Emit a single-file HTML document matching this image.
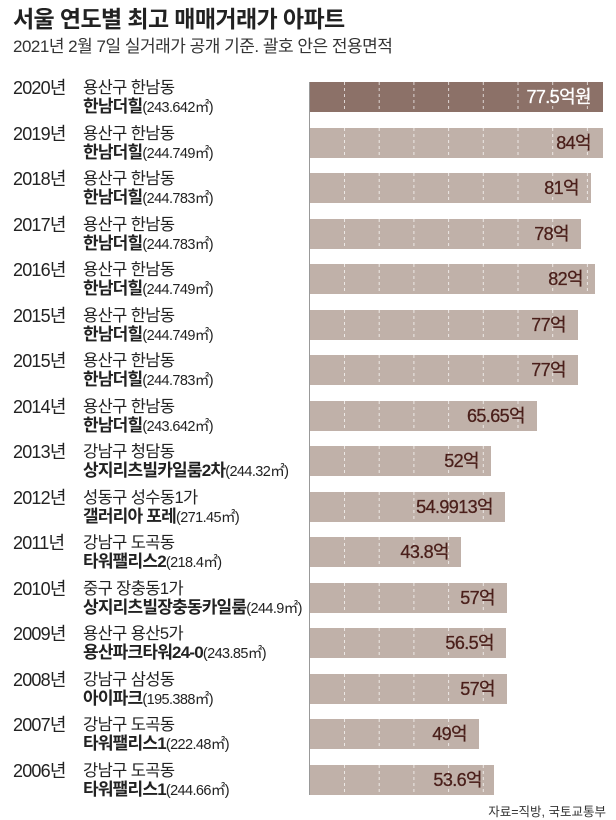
<!DOCTYPE html>
<html><head><meta charset="utf-8"><style>
body{margin:0;width:616px;height:819px;background:#fff;position:relative;overflow:hidden;font-family:"Liberation Sans","Noto Sans CJK KR",sans-serif;color:#222}
.t{position:absolute;left:13px;top:5px;font-size:23px;line-height:28px;font-weight:bold;color:#222;letter-spacing:-0.6px}
.s{position:absolute;left:13px;top:36px;font-size:17px;line-height:22px;color:#333;letter-spacing:-0.5px}
.y{position:absolute;left:13px;font-size:18px;line-height:20px;color:#222;letter-spacing:-0.8px}
.a{position:absolute;left:83px;font-size:16.5px;line-height:20px;color:#222;letter-spacing:-0.6px}
.n{position:absolute;left:83px;font-size:17px;line-height:20px;font-weight:bold;color:#222;letter-spacing:-0.8px;white-space:nowrap}
.n span{font-weight:normal;font-size:14.5px;letter-spacing:-0.6px}
.bar{position:absolute;left:310px;height:30px}
.lab{position:absolute;font-size:18px;line-height:22px;color:#4a1f1a;text-align:right;letter-spacing:-0.6px;-webkit-text-stroke:0.3px currentColor}
.axis{position:absolute;left:309px;top:82px;width:1px;height:713px;background:#999}
.src{position:absolute;right:10px;top:801px;font-size:12.5px;color:#333}
</style></head><body>
<div class="t">서울 연도별 최고 매매거래가 아파트</div>
<div class="s">2021년 2월 7일 실거래가 공개 기준. 괄호 안은 전용면적</div>
<div class="axis"></div>
<div id="b"></div>
<svg width="616" height="819" style="position:absolute;left:0;top:0" id="g"></svg>
<div id="c"></div>
<div class="src">자료=직방, 국토교통부</div>
<script>
var d=[["2020년","용산구 한남동","한남더힐","(243.642㎡)",603,"77.5억원"],
["2019년","용산구 한남동","한남더힐","(244.749㎡)",603,"84억"],
["2018년","용산구 한남동","한남더힐","(244.783㎡)",591,"81억"],
["2017년","용산구 한남동","한남더힐","(244.783㎡)",581,"78억"],
["2016년","용산구 한남동","한남더힐","(244.749㎡)",595,"82억"],
["2015년","용산구 한남동","한남더힐","(244.749㎡)",578,"77억"],
["2015년","용산구 한남동","한남더힐","(244.783㎡)",578,"77억"],
["2014년","용산구 한남동","한남더힐","(243.642㎡)",537,"65.65억"],
["2013년","강남구 청담동","상지리츠빌카일룸2차","(244.32㎡)",491,"52억"],
["2012년","성동구 성수동1가","갤러리아 포레","(271.45㎡)",505,"54.9913억"],
["2011년","강남구 도곡동","타워팰리스2","(218.4㎡)",461,"43.8억"],
["2010년","중구 장충동1가","상지리츠빌장충동카일룸","(244.9㎡)",507,"57억"],
["2009년","용산구 용산5가","용산파크타워24-0","(243.85㎡)",506,"56.5억"],
["2008년","강남구 삼성동","아이파크","(195.388㎡)",507,"57억"],
["2007년","강남구 도곡동","타워팰리스1","(222.48㎡)",479,"49억"],
["2006년","강남구 도곡동","타워팰리스1","(244.66㎡)",494,"53.6억"]];
var h="",b="",svg="";
d.forEach(function(r,i){
 var top=Math.round(82+i*45.5);
 h+='<div class="y" style="top:'+(top-4)+'px">'+r[0]+'</div>';
 h+='<div class="a" style="top:'+(top-4)+'px">'+r[1]+'</div>';
 h+='<div class="n" style="top:'+(top+15)+'px">'+r[2]+'<span>'+r[3]+'</span></div>';
 var w=r[4]-310;
 b+='<div class="bar" style="top:'+top+'px;width:'+w+'px;background:'+(i==0?'#8c7168':'#c0b1a9')+'"></div>';
 h+='<div class="lab" style="top:'+(top+4)+'px;left:310px;width:'+(w-12)+'px;'+(i==0?'color:#fff':'')+'">'+r[5]+'</div>';
 for(var x=344.5;x<r[4]-2;x+=34.7){svg+='<line x1="'+x+'" y1="'+top+'" x2="'+x+'" y2="'+(top+30)+'" stroke="rgba(255,255,255,0.7)" stroke-width="1" stroke-dasharray="3,3"/>';}
});
document.getElementById('b').innerHTML=b;
document.getElementById('c').innerHTML=h;
document.getElementById('g').innerHTML=svg;
</script>
</body></html>
